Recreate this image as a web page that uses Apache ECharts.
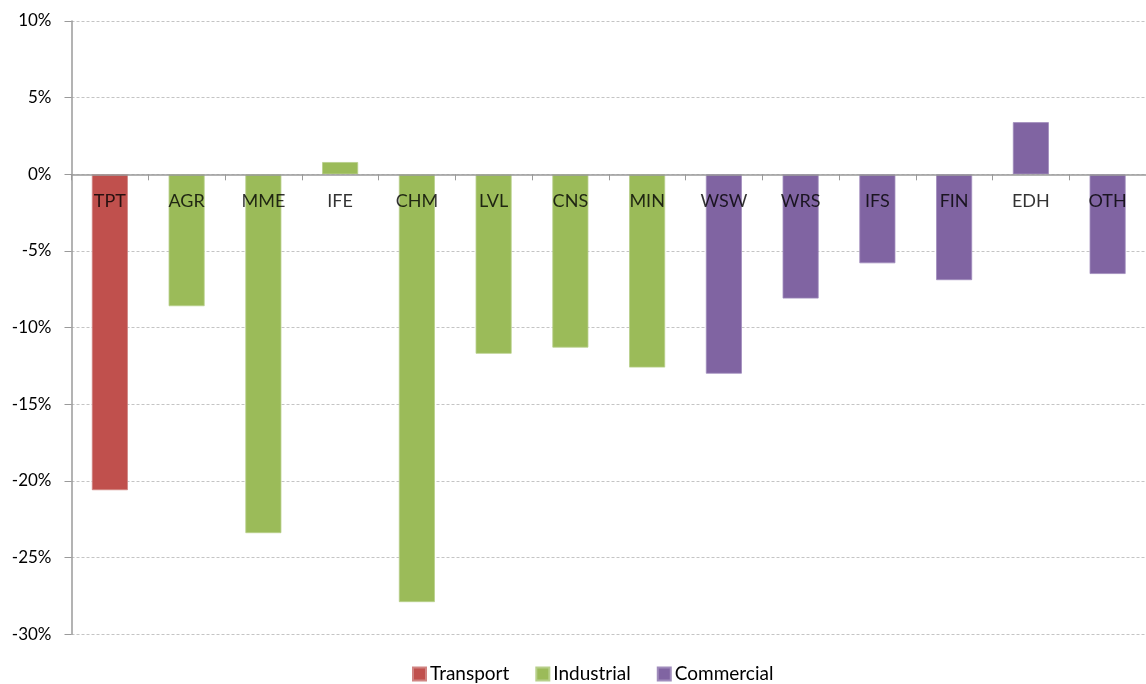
<!DOCTYPE html>
<html>
<head>
<meta charset="utf-8">
<script src="https://cdn.jsdelivr.net/npm/echarts@6/dist/echarts.min.js"></script>
<style>
html,body{margin:0;padding:0;background:#fff;}
#chart{width:1146px;height:684px;}
</style>
</head>
<body>
<div id="chart"></div>
<script>
const categories = ['TPT','AGR','MME','IFE','CHM','LVL','CNS','MIN','WSW','WRS','IFS','FIN','EDH','OTH'];
const transport  = [-20.6, null, null, null, null, null, null, null, null, null, null, null, null, null];
const industrial = [null, -8.6, -23.4, 0.8, -27.9, -11.7, -11.3, -12.6, null, null, null, null, null, null];
const commercial = [null, null, null, null, null, null, null, null, -13.0, -8.1, -5.8, -6.9, 3.4, -6.5];
const seriesNames = ['Transport','Industrial','Commercial'];
const yTicks = {min: -30, max: 10, interval: 5};

const FONT = 'Lato, "Open Sans", sans-serif';
const colors = ['#C0504D','#9BBB59','#8064A2'];
const borders = ['#D08482','#B7CF8A','#A08CBC'];

const chart = echarts.init(document.getElementById('chart'), null, {renderer:'canvas'});
const mk = (name, data, i) => ({
  name, type:'bar', data, barWidth:36, barGap:'-100%',
  itemStyle:{color:colors[i], borderColor:borders[i], borderWidth:0.8},
  emphasis:{disabled:true}
});
chart.setOption({
  animation:false,
  color:colors,
  grid:{left:71.5, top:21, width:1083.6, height:613.3, containLabel:false},
  xAxis:{
    type:'category', data:categories, boundaryGap:true,
    axisLine:{onZero:true, lineStyle:{color:'#9a9a9a', width:1.5}},
    axisTick:{show:true, alignWithLabel:false, length:6, lineStyle:{color:'#9a9a9a', width:1}},
    axisLabel:{show:false},
    splitLine:{show:false}, z:5
  },
  yAxis:{
    type:'value', min:yTicks.min, max:yTicks.max, interval:yTicks.interval,
    axisLine:{show:true, lineStyle:{color:'#9a9a9a', width:1.5}},
    axisTick:{show:true, inside:false, length:7, lineStyle:{color:'#9a9a9a'}},
    axisLabel:{formatter:'{value}%', color:'#000', fontFamily:FONT, fontSize:17, margin:20},
    splitLine:{show:true, lineStyle:{color:'#c4c4c4', type:[3,2], width:1}}
  },
  legend:{
    data:seriesNames, top:659, left:407, icon:'rect', itemWidth:13, itemHeight:13,
    itemGap:26, padding:5, textStyle:{color:'#000', fontFamily:FONT, fontSize:19, lineHeight:20, padding:[0,0,0,-1]},
    selectedMode:false
  },
  series:[
    mk(seriesNames[0],transport,0), mk(seriesNames[1],industrial,1), mk(seriesNames[2],commercial,2),
    {
      name:'catLabels', type:'scatter', symbolSize:1, silent:true, z:10,
      itemStyle:{color:'rgba(0,0,0,0)'},
      data:categories.map(c => [c, 0]),
      label:{show:true, position:'bottom', distance:17, formatter:p => p.value[0],
             color:'#000', fontFamily:FONT, fontSize:18, lineHeight:18},
      emphasis:{disabled:true}
    }
  ]
});
</script>
</body>
</html>
